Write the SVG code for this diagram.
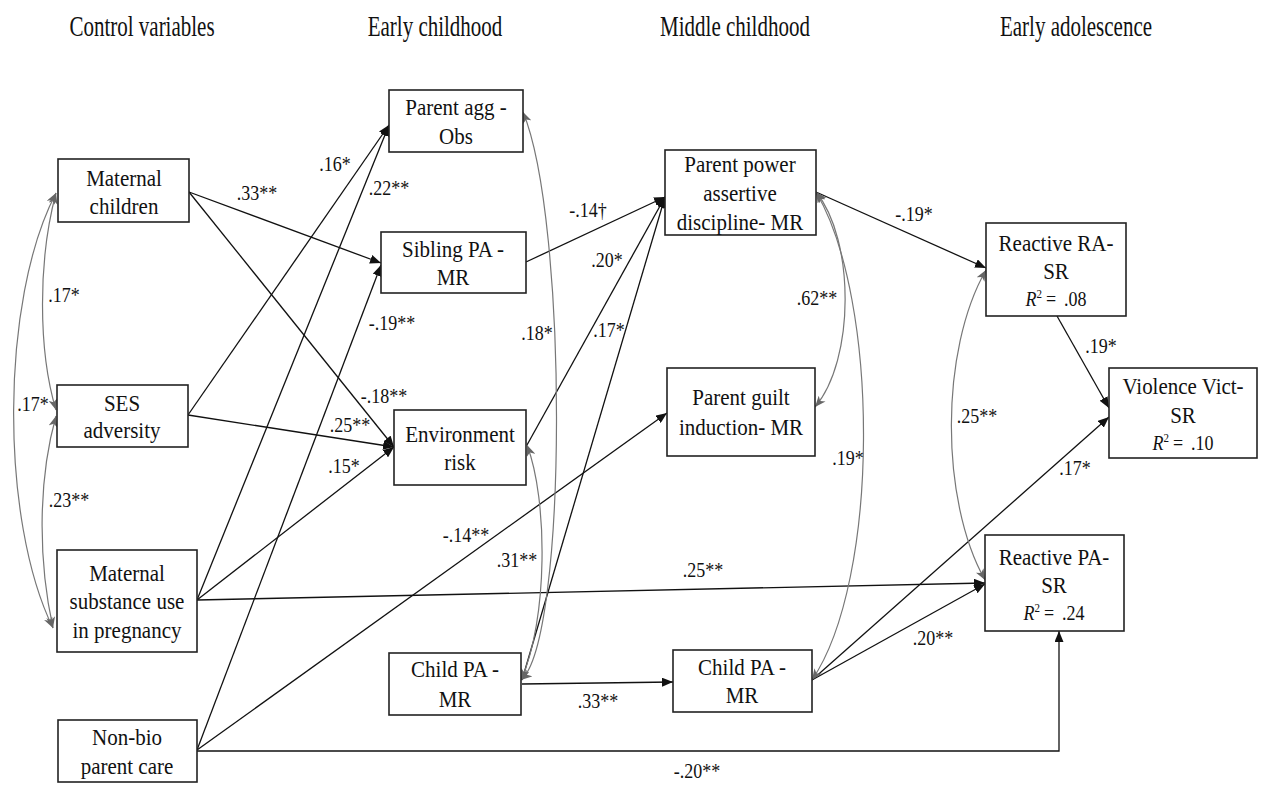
<svg xmlns="http://www.w3.org/2000/svg" width="1263" height="785" viewBox="0 0 1263 785" font-family="Liberation Serif, Tinos, serif">
<style>
text{fill:#111}
.hd{font-size:21px;text-anchor:middle}
.nt{font-size:21px;text-anchor:middle}
.r2{font-size:18px;text-anchor:middle}
.lb{font-size:18px;text-anchor:middle}
.box{fill:#fff;stroke:#222;stroke-width:1.6}
.ed{fill:none;stroke:#111;stroke-width:1.3;marker-end:url(#ah)}
.cv{fill:none;stroke:#777;stroke-width:1.2;marker-start:url(#ag);marker-end:url(#ag)}
</style>
<defs>
<marker id="ah" markerUnits="userSpaceOnUse" markerWidth="11" markerHeight="9" refX="11" refY="4.5" orient="auto"><path d="M0,0 L11,4.5 L0,9 z" fill="#111"/></marker>
<marker id="ag" markerUnits="userSpaceOnUse" markerWidth="11" markerHeight="9" refX="11" refY="4.5" orient="auto-start-reverse"><path d="M0,0 L11,4.5 L0,9 L3,4.5 z" fill="#666"/></marker>
</defs>
<rect width="1263" height="785" fill="#fff"/>
<g id="headers">
<text class="hd" transform="matrix(1 0 0 1.45 142 36)">Control variables</text>
<text class="hd" transform="matrix(1 0 0 1.45 435 36)">Early childhood</text>
<text class="hd" transform="matrix(1 0 0 1.45 735 36)">Middle childhood</text>
<text class="hd" transform="matrix(1 0 0 1.45 1076 36)">Early adolescence</text>
</g>
<g id="connectors">
<path class="ed" d="M189,192 L381,263"/>
<path class="ed" d="M189,192 L394,447"/>
<path class="ed" d="M188,415 L389,125"/>
<path class="ed" d="M188,415 L394,447"/>
<path class="ed" d="M197,600 L389,125"/>
<path class="ed" d="M197,600 L394,447"/>
<path class="ed" d="M197,750 L381,265"/>
<path class="ed" d="M197,750 L667,413"/>
<path class="ed" d="M197,600 L985,583"/>
<path class="ed" d="M197,751 L1059,751 L1059,631"/>
<path class="ed" d="M526,262 L665,197"/>
<path class="ed" d="M527,445 L665,197"/>
<path class="ed" d="M522,680 L665,197"/>
<path class="ed" d="M522,684 L673,682"/>
<path class="ed" d="M816,192 L986,268"/>
<path class="ed" d="M1057,316 L1109,408"/>
<path class="ed" d="M812,680 L1109,417"/>
<path class="ed" d="M812,680 L985,584"/>
<path class="cv" d="M56,193 C38,260 38,350 56,410"/>
<path class="cv" d="M56,193 C0,300 0,520 53,628"/>
<path class="cv" d="M56,416 C38,480 38,560 53,628"/>
<path class="cv" d="M523,112 C568,220 568,640 521,680"/>
<path class="cv" d="M527,445 C548,500 548,620 521,680"/>
<path class="cv" d="M816,192 C855,240 855,360 815,407"/>
<path class="cv" d="M816,192 C880,300 880,580 812,680"/>
<path class="cv" d="M986,270 C940,350 940,500 985,580"/>
</g>
<g id="edge-labels">
<text class="lb" transform="matrix(1 0 0 1.12 257 200)">.33**</text>
<text class="lb" transform="matrix(1 0 0 1.12 335 171)">.16*</text>
<text class="lb" transform="matrix(1 0 0 1.12 389 195)">.22**</text>
<text class="lb" transform="matrix(1 0 0 1.12 392 330)">-.19**</text>
<text class="lb" transform="matrix(1 0 0 1.12 64 302)">.17*</text>
<text class="lb" transform="matrix(1 0 0 1.12 33 411)">.17*</text>
<text class="lb" transform="matrix(1 0 0 1.12 384 403)">-.18**</text>
<text class="lb" transform="matrix(1 0 0 1.12 350 432)">.25**</text>
<text class="lb" transform="matrix(1 0 0 1.12 344 473)">.15*</text>
<text class="lb" transform="matrix(1 0 0 1.12 69 507)">.23**</text>
<text class="lb" transform="matrix(1 0 0 1.12 588 217)">-.14†</text>
<text class="lb" transform="matrix(1 0 0 1.12 607 267)">.20*</text>
<text class="lb" transform="matrix(1 0 0 1.12 537 340)">.18*</text>
<text class="lb" transform="matrix(1 0 0 1.12 609 337)">.17*</text>
<text class="lb" transform="matrix(1 0 0 1.12 817 305)">.62**</text>
<text class="lb" transform="matrix(1 0 0 1.12 466 542)">-.14**</text>
<text class="lb" transform="matrix(1 0 0 1.12 517 567)">.31**</text>
<text class="lb" transform="matrix(1 0 0 1.12 703 577)">.25**</text>
<text class="lb" transform="matrix(1 0 0 1.12 598 708)">.33**</text>
<text class="lb" transform="matrix(1 0 0 1.12 697 778)">-.20**</text>
<text class="lb" transform="matrix(1 0 0 1.12 914 221)">-.19*</text>
<text class="lb" transform="matrix(1 0 0 1.12 1101 353)">.19*</text>
<text class="lb" transform="matrix(1 0 0 1.12 977 423)">.25**</text>
<text class="lb" transform="matrix(1 0 0 1.12 848 465)">.19*</text>
<text class="lb" transform="matrix(1 0 0 1.12 1075 475)">.17*</text>
<text class="lb" transform="matrix(1 0 0 1.12 933 645)">.20**</text>
</g>
<g id="maternal-children">
<rect class="box" x="58" y="159" width="131" height="63"/>
<text class="nt" transform="matrix(1 0 0 1.13 124 186)">Maternal</text>
<text class="nt" transform="matrix(1 0 0 1.13 124 214)">children</text>
</g>
<g id="ses-adversity">
<rect class="box" x="57" y="385" width="131" height="62"/>
<text class="nt" transform="matrix(1 0 0 1.13 122 411)">SES</text>
<text class="nt" transform="matrix(1 0 0 1.13 122 438)">adversity</text>
</g>
<g id="maternal-substance">
<rect class="box" x="57" y="550" width="140" height="102"/>
<text class="nt" transform="matrix(1 0 0 1.13 127 581)">Maternal</text>
<text class="nt" transform="matrix(1 0 0 1.13 127 609)">substance use</text>
<text class="nt" transform="matrix(1 0 0 1.13 127 638)">in pregnancy</text>
</g>
<g id="non-bio">
<rect class="box" x="58" y="720" width="139" height="62"/>
<text class="nt" transform="matrix(1 0 0 1.13 127 745)">Non-bio</text>
<text class="nt" transform="matrix(1 0 0 1.13 127 774)">parent care</text>
</g>
<g id="parent-agg">
<rect class="box" x="389" y="90" width="134" height="62"/>
<text class="nt" transform="matrix(1 0 0 1.13 456 115)">Parent agg -</text>
<text class="nt" transform="matrix(1 0 0 1.13 456 144)">Obs</text>
</g>
<g id="sibling-pa">
<rect class="box" x="381" y="232" width="145" height="61"/>
<text class="nt" transform="matrix(1 0 0 1.13 453 257)">Sibling PA -</text>
<text class="nt" transform="matrix(1 0 0 1.13 453 285)">MR</text>
</g>
<g id="environment-risk">
<rect class="box" x="394" y="410" width="132" height="75"/>
<text class="nt" transform="matrix(1 0 0 1.13 460 442)">Environment</text>
<text class="nt" transform="matrix(1 0 0 1.13 460 470)">risk</text>
</g>
<g id="child-pa-early">
<rect class="box" x="389" y="653" width="132" height="62"/>
<text class="nt" transform="matrix(1 0 0 1.13 455 677)">Child PA -</text>
<text class="nt" transform="matrix(1 0 0 1.13 455 707)">MR</text>
</g>
<g id="parent-power">
<rect class="box" x="665" y="150" width="151" height="85"/>
<text class="nt" transform="matrix(1 0 0 1.13 740 172)">Parent power</text>
<text class="nt" transform="matrix(1 0 0 1.13 740 201)">assertive</text>
<text class="nt" transform="matrix(1 0 0 1.13 740 230)">discipline- MR</text>
</g>
<g id="parent-guilt">
<rect class="box" x="667" y="368" width="148" height="88"/>
<text class="nt" transform="matrix(1 0 0 1.13 741 405)">Parent guilt</text>
<text class="nt" transform="matrix(1 0 0 1.13 741 435)">induction- MR</text>
</g>
<g id="child-pa-middle">
<rect class="box" x="673" y="650" width="139" height="62"/>
<text class="nt" transform="matrix(1 0 0 1.13 742 675)">Child PA -</text>
<text class="nt" transform="matrix(1 0 0 1.13 742 703)">MR</text>
</g>
<g id="reactive-ra">
<rect class="box" x="986" y="223" width="140" height="93"/>
<text class="nt" transform="matrix(1 0 0 1.13 1056 251)">Reactive RA-</text>
<text class="nt" transform="matrix(1 0 0 1.13 1056 279)">SR</text>
<text class="r2" transform="matrix(1 0 0 1.13 1056 306)"><tspan font-style="italic">R</tspan><tspan font-size="11" dy="-7">2</tspan><tspan dy="7" dx="4">=</tspan><tspan dx="8">.08</tspan></text>
</g>
<g id="violence-vict">
<rect class="box" x="1109" y="368" width="148" height="90"/>
<text class="nt" transform="matrix(1 0 0 1.13 1183 394)">Violence Vict-</text>
<text class="nt" transform="matrix(1 0 0 1.13 1183 423)">SR</text>
<text class="r2" transform="matrix(1 0 0 1.13 1183 450)"><tspan font-style="italic">R</tspan><tspan font-size="11" dy="-7">2</tspan><tspan dy="7" dx="4">=</tspan><tspan dx="8">.10</tspan></text>
</g>
<g id="reactive-pa">
<rect class="box" x="985" y="535" width="139" height="96"/>
<text class="nt" transform="matrix(1 0 0 1.13 1054 565)">Reactive PA-</text>
<text class="nt" transform="matrix(1 0 0 1.13 1054 593)">SR</text>
<text class="r2" transform="matrix(1 0 0 1.13 1054 620)"><tspan font-style="italic">R</tspan><tspan font-size="11" dy="-7">2</tspan><tspan dy="7" dx="4">=</tspan><tspan dx="8">.24</tspan></text>
</g>
</svg>
